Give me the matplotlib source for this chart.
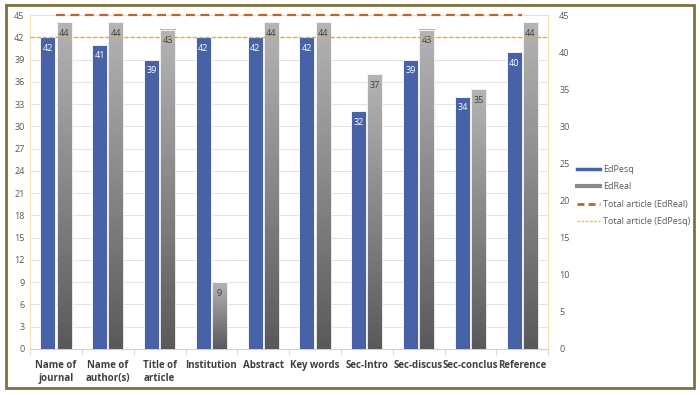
import numpy as np
import matplotlib
matplotlib.use("Agg")
import matplotlib.pyplot as plt
from matplotlib.colors import LinearSegmentedColormap
from matplotlib.lines import Line2D
from matplotlib.patches import Rectangle

categories = ["Name of\njournal", "Name of\nauthor(s)", "Title of\narticle", "Institution",
              "Abstract", "Key words", "Sec-Intro", "Sec-discus", "Sec-conclus", "Reference"]
ed_pesq = [42, 41, 39, 42, 42, 42, 32, 39, 34, 40]
ed_real = [44, 44, 43, 9, 44, 44, 37, 43, 35, 44]
total_real = 45
total_pesq = 42

plt.rcParams['font.family'] = ['Open Sans', 'DejaVu Sans']

fig = plt.figure(figsize=(7, 3.95), dpi=100)
ax = fig.add_axes([0.043, 0.1165, 0.74, 0.8455])

x = np.arange(len(categories))
w = 0.29
blue = "#4862a8"
gray_cmap = LinearSegmentedColormap.from_list("g", ["#5a5a5c", "#b4b4b6"])
grad = np.linspace(0, 1, 100).reshape(-1, 1)

ax.bar(x - w / 2 - 0.01, ed_pesq, w, color=blue, edgecolor="white", linewidth=0.6, zorder=3)
for xi, v in zip(x, ed_real):
    x0 = xi + 0.01
    ax.imshow(grad, cmap=gray_cmap, origin="lower", aspect="auto",
              extent=(x0, x0 + w, 0, v), zorder=3)
    ax.add_patch(Rectangle((x0, 0), w, v, fill=False, edgecolor="white", lw=0.6, zorder=4))

for xi, v in zip(x, ed_pesq):
    ax.annotate(str(v), (xi - w / 2 - 0.01, v), xytext=(0, -8), textcoords="offset points",
                ha="center", va="center", color="white", fontsize=6.5, zorder=5)
for xi, v in zip(x, ed_real):
    ax.annotate(str(v), (xi + w / 2 + 0.01, v), xytext=(0, -8), textcoords="offset points",
                ha="center", va="center", color="#404040", fontsize=6.5, zorder=5)

ax.plot([x[0], x[-1]], [total_real, total_real], color="#c0642a", lw=1.6,
        dashes=(4, 2.5), zorder=6, clip_on=False)
ax.axhline(total_pesq, color="#f0a830", lw=1.0, dashes=(3, 1.5), zorder=6)

ax.set_xlim(-0.5, len(categories) - 0.5)
ax.set_ylim(0, 45)
ax.set_yticks(np.arange(0, 46, 3))
ax.yaxis.grid(True, color="#e3e3e3", lw=0.7, zorder=0)
ax.set_axisbelow(True)
ax.tick_params(axis="y", length=0, labelsize=6.5, labelcolor="#595959", pad=4)
ax.set_xticks(x)
ax.set_xticklabels(categories, fontsize=7, fontweight="bold", color="#404040")
ax.set_xticks(np.arange(-0.5, len(categories), 1), minor=True)
ax.tick_params(axis="x", which="major", length=0, pad=8)
ax.tick_params(axis="x", which="minor", length=4, color="#d0d0d0")
for s in ["top", "left", "right"]:
    ax.spines[s].set_color("#f7dfb5")
    ax.spines[s].set_linewidth(0.7)
ax.spines["bottom"].set_color("#d0d0d0")

ax2 = ax.twinx()
ax2.set_ylim(0, 45)
ax2.set_yticks(np.arange(0, 46, 5))
ax2.tick_params(axis="y", length=0, labelsize=6.5, labelcolor="#595959", pad=8)
for s in ax2.spines.values():
    s.set_visible(False)

handles = [
    Line2D([], [], color=blue, lw=2.5),
    Line2D([], [], color="#8c8c8c", lw=3),
    Line2D([], [], color="#c0642a", lw=2, dashes=(2.5, 1.5)),
    Line2D([], [], color="#f0c040", lw=1, dashes=(2, 1)),
]
labels = ["EdPesq", "EdReal", "Total article (EdReal)", "Total article (EdPesq)"]
fig.legend(handles, labels, loc="center left", bbox_to_anchor=(0.812, 0.505), frameon=False,
           fontsize=6.5, labelcolor="#595959", handlelength=2.6, labelspacing=0.95,
           handletextpad=0.3)

fig.patches.append(Rectangle((0.008, 0.017), 0.984, 0.97, transform=fig.transFigure,
                             fill=False, edgecolor="#7f7040", lw=2))

fig.savefig("out.png", dpi=100)
